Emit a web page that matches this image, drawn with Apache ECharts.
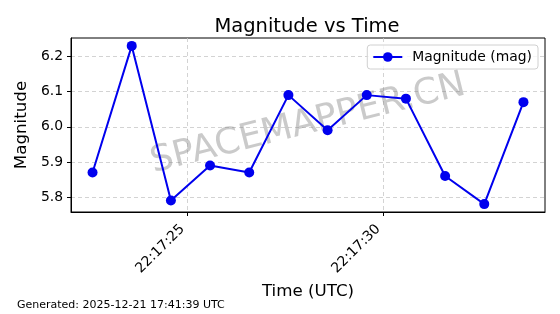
<!DOCTYPE html>
<html>
<head>
<meta charset="utf-8">
<script src="https://cdn.jsdelivr.net/npm/echarts@6/dist/echarts.min.js"></script>
<style>html,body{margin:0;padding:0;background:#fff;}#c{width:560px;height:314px;}</style>
</head>
<body>
<div id="c"></div>
<script>
const times = ['22:17:22.58','22:17:23.58','22:17:24.58','22:17:25.58','22:17:26.58','22:17:27.58','22:17:28.58','22:17:29.58','22:17:30.58','22:17:31.58','22:17:32.58','22:17:33.58'];
const magnitudes = [5.87, 6.23, 5.79, 5.89, 5.87, 6.09, 5.99, 6.09, 6.08, 5.86, 5.78, 6.07];
const xTickLabels = ['22:17:25', '22:17:30'];
const yTicks = [5.8, 5.9, 6.0, 6.1, 6.2];

function toSec(s){const p=s.split(':');return (+p[0])*3600+(+p[1])*60+parseFloat(p[2]);}
function fmt(v){const h=Math.floor(v/3600),m=Math.floor((v%3600)/60),s=Math.round(v%60);const z=n=>String(n).padStart(2,'0');return z(h)+':'+z(m)+':'+z(s);}
const xs = times.map(toSec);
const xTicks = xTickLabels.map(toSec);
const xSpan = xs[xs.length-1]-xs[0];
const xMin = xs[0]-0.05*xSpan, xMax = xs[xs.length-1]+0.05*xSpan;
const yLo = Math.min(...magnitudes), yHi = Math.max(...magnitudes), ySpan = yHi-yLo;
const yMin = yLo-0.05*ySpan, yMax = yHi+0.05*ySpan;

const font = 'DejaVu Sans';
const chart = echarts.init(document.getElementById('c'));
chart.setOption({
  animation: false,
  backgroundColor: '#fff',
  title: {text: 'Magnitude vs Time', left: 302, top: 12, textAlign: 'center',
    textStyle: {fontFamily: font, fontSize: 19.5, fontWeight: 'normal', color: '#000'}},
  legend: {right: 22, top: 45, itemWidth: 29, itemHeight: 12, itemGap: 8,
    padding: [5, 6, 5, 5], borderColor: '#d0d0d0', borderWidth: 1, borderRadius: 3,
    backgroundColor: 'rgba(255,255,255,0.8)',
    textStyle: {fontFamily: font, fontSize: 13.9, color: '#000', padding: [0, 0, 0, 5]},
    data: [{name: 'Magnitude (mag)'}]},
  grid: {left: 71, right: 15, top: 38, bottom: 102, containLabel: false, outerBoundsMode: 'none',
    show: true, borderColor: '#000', borderWidth: 1, backgroundColor: 'transparent'},
  xAxis: {type: 'value', min: xMin, max: xMax,
    name: 'Time (UTC)', nameLocation: 'middle', nameGap: 64,
    nameTextStyle: {fontFamily: font, fontSize: 16.7, color: '#000'},
    axisLine: {show: true, lineStyle: {color: '#000'}},
    axisTick: {show: true, length: 4, lineStyle: {color: '#000'}, customValues: xTicks},
    axisLabel: {customValues: xTicks, rotate: 45, formatter: v => fmt(v), fontFamily: font, fontSize: 13.9, color: '#000', margin: 10, padding: [0, 7, 0, 0]},
    splitLine: {show: true, lineStyle: {color: '#c8c8c8', type: [4, 3], width: 0.8}}},
  yAxis: {type: 'value', min: yMin, max: yMax,
    name: 'Magnitude', nameLocation: 'middle', nameGap: 39,
    nameTextStyle: {fontFamily: font, fontSize: 16.7, color: '#000'},
    axisLine: {show: true, lineStyle: {color: '#000'}},
    axisTick: {show: true, length: 4, lineStyle: {color: '#000'}, customValues: yTicks},
    axisLabel: {customValues: yTicks, formatter: v => v.toFixed(1), fontFamily: font, fontSize: 13.9, color: '#000', margin: 8},
    splitLine: {show: true, lineStyle: {color: '#c8c8c8', type: [4, 3], width: 0.8}}},
  graphic: [
    {type: 'text', x: 308, y: 124, rotation: 14*Math.PI/180, z: 1,
      style: {text: 'SPACEMAPPER.CN', font: '36px "DejaVu Sans"', fill: 'rgba(128,128,128,0.42)', textAlign: 'center', textVerticalAlign: 'middle'}},
    {type: 'text', left: 17, top: 300,
      style: {text: 'Generated: 2025-12-21 17:41:39 UTC', font: '11px "DejaVu Sans"', fill: '#000'}}
  ],
  series: [{name: 'Magnitude (mag)', type: 'line', data: xs.map((x,i)=>[x, magnitudes[i]]),
    symbol: 'circle', symbolSize: 10, z: 3,
    lineStyle: {color: '#0000ee', width: 2}, itemStyle: {color: '#0000ee'}}]
});
</script>
</body>
</html>
